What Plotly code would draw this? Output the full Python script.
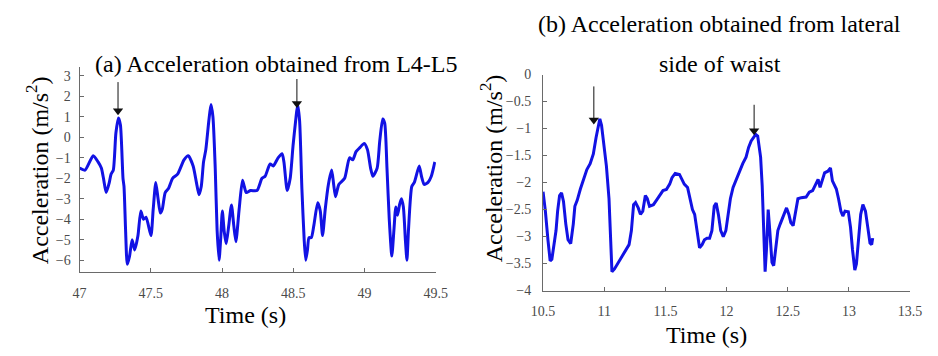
import plotly.graph_objects as go

W, H = 938, 356

# (a) L4-L5 sensor: time (s) and acceleration (m/s^2)
t_a = [47.000, 47.039, 47.096, 47.130, 47.153, 47.168, 47.187, 47.209, 47.221, 47.237,
       47.255, 47.273, 47.287, 47.305, 47.312, 47.323, 47.335, 47.351, 47.369, 47.387,
       47.410, 47.430, 47.449, 47.467, 47.501, 47.517, 47.535, 47.551, 47.567, 47.581,
       47.601, 47.624, 47.653, 47.688, 47.733, 47.763, 47.797, 47.820, 47.838, 47.854,
       47.870, 47.886, 47.907, 47.922, 47.936, 47.952, 47.965, 47.979, 47.990, 48.002,
       48.015, 48.029, 48.047, 48.066, 48.082, 48.097, 48.120, 48.143, 48.156, 48.170,
       48.200, 48.245, 48.280, 48.302, 48.337, 48.359, 48.393, 48.421, 48.434, 48.457,
       48.478, 48.498, 48.516, 48.530, 48.544, 48.560, 48.576, 48.587, 48.599, 48.610,
       48.626, 48.644, 48.671, 48.689, 48.705, 48.724, 48.746, 48.769, 48.783, 48.796,
       48.819, 48.860, 48.894, 48.917, 48.940, 48.967, 48.997, 49.020, 49.042, 49.058,
       49.088, 49.106, 49.127, 49.141, 49.157, 49.173, 49.191, 49.206, 49.219, 49.231,
       49.245, 49.258, 49.272, 49.286, 49.297, 49.308, 49.331, 49.349, 49.383, 49.399,
       49.418, 49.445, 49.468, 49.493]
acc_a = [-1.5, -1.6, -0.9, -1.2, -1.5, -2.0, -2.7, -2.2, -1.8, -1.6,
         0.2, 0.95, 0.6, -2.0, -2.4, -4.5, -6.2, -5.8, -5.0, -5.5,
         -4.8, -3.6, -4.0, -3.9, -4.8, -3.5, -2.2, -3.0, -3.7, -3.5,
         -2.7, -2.5, -2.0, -1.8, -1.1, -0.9, -1.4, -2.2, -2.8, -2.4,
         -1.2, -0.6, 0.8, 1.6, 1.0, -1.5, -4.5, -6.0, -5.0, -3.6,
         -4.6, -5.2, -4.3, -3.3, -4.3, -5.1, -3.5, -2.1, -2.4, -2.7,
         -2.6, -2.6, -2.0, -1.9, -1.3, -1.4, -1.0, -0.8, -1.2, -2.6,
         -2.0, -0.4, 0.8, 1.6, 0.8, -2.5, -5.0, -6.0, -5.5, -4.9,
         -4.9, -4.3, -3.2, -3.6, -4.8, -3.5, -2.3, -1.6, -2.3, -2.9,
         -2.3, -2.0, -1.0, -1.1, -0.7, -0.5, -0.3, -0.6, -1.5, -1.9,
         -1.5, -0.2, 0.9, 0.7, -1.5, -4.0, -5.8, -4.5, -3.4, -3.8,
         -3.3, -3.0, -3.4, -5.0, -6.0, -4.5, -2.4, -2.2, -1.4, -1.9,
         -2.3, -2.2, -1.9, -1.2]

# (b) lateral waist sensor
t_b = [10.500, 10.519, 10.540, 10.558, 10.572, 10.588, 10.606, 10.619, 10.635, 10.651,
       10.667, 10.686, 10.704, 10.726, 10.747, 10.760, 10.779, 10.805, 10.832, 10.858,
       10.885, 10.911, 10.933, 10.951, 10.964, 10.978, 10.996, 11.018, 11.039, 11.052,
       11.063, 11.084, 11.124, 11.163, 11.203, 11.222, 11.240, 11.256, 11.278, 11.296,
       11.315, 11.336, 11.352, 11.370, 11.402, 11.429, 11.456, 11.480, 11.508, 11.535,
       11.554, 11.580, 11.615, 11.633, 11.654, 11.681, 11.702, 11.721, 11.739, 11.761,
       11.779, 11.800, 11.819, 11.840, 11.861, 11.880, 11.899, 11.915, 11.933, 11.952,
       11.973, 11.994, 12.013, 12.031, 12.053, 12.079, 12.106, 12.132, 12.159, 12.180,
       12.201, 12.217, 12.238, 12.254, 12.265, 12.278, 12.291, 12.304, 12.315, 12.326,
       12.340, 12.353, 12.371, 12.385, 12.401, 12.419, 12.438, 12.457, 12.472, 12.490,
       12.509, 12.525, 12.544, 12.562, 12.583, 12.610, 12.650, 12.676, 12.703, 12.729,
       12.748, 12.764, 12.783, 12.801, 12.828, 12.849, 12.865, 12.881, 12.897, 12.915,
       12.934, 12.950, 12.968, 12.995, 13.013, 13.029, 13.048, 13.061, 13.077, 13.096,
       13.114, 13.135, 13.154, 13.172, 13.186, 13.194]
acc_b = [-2.17, -2.53, -3.06, -3.45, -3.42, -3.18, -2.89, -2.53, -2.24, -2.19,
         -2.35, -2.77, -3.06, -3.13, -2.77, -2.44, -2.33, -2.12, -1.94, -1.76,
         -1.65, -1.47, -1.17, -0.97, -0.82, -0.94, -1.29, -1.70, -2.30, -3.12,
         -3.65, -3.60, -3.45, -3.30, -3.15, -2.89, -2.41, -2.37, -2.47, -2.59,
         -2.53, -2.24, -2.30, -2.44, -2.41, -2.32, -2.24, -2.15, -2.13, -2.03,
         -1.91, -1.83, -1.85, -1.94, -2.03, -2.09, -2.30, -2.50, -2.59, -2.89,
         -3.21, -3.15, -3.06, -3.03, -3.03, -2.89, -2.44, -2.38, -2.59, -2.89,
         -3.00, -2.89, -2.62, -2.30, -2.09, -1.94, -1.79, -1.65, -1.53, -1.35,
         -1.23, -1.17, -1.11, -1.14, -1.29, -1.53, -2.06, -2.77, -3.65, -3.24,
         -2.50, -2.89, -3.48, -3.54, -3.18, -2.89, -2.77, -2.65, -2.59, -2.47,
         -2.59, -2.74, -2.80, -2.59, -2.30, -2.28, -2.27, -2.18, -2.15, -2.03,
         -1.94, -2.09, -1.97, -1.82, -1.79, -1.73, -1.97, -2.06, -2.12, -2.30,
         -2.53, -2.62, -2.53, -2.54, -2.83, -3.24, -3.62, -3.51, -3.00, -2.59,
         -2.41, -2.53, -2.83, -3.12, -3.15, -3.03]

# arrow markers: (time, tip value, tail value)
arrows_a = [(47.270, 1.30, 2.70), (48.525, 1.65, 2.85)]
arrows_b = [(10.915, -0.84, -0.22), (12.225, -1.04, -0.56)]

xticks_a = [47, 47.5, 48, 48.5, 49, 49.5]
yticks_a = [3, 2, 1, 0, -1, -2, -3, -4, -5, -6]
xticks_b = [10.5, 11, 11.5, 12, 12.5, 13, 13.5]
yticks_b = [0, -0.5, -1, -1.5, -2, -2.5, -3, -3.5, -4]

title_a = "(a) Acceleration obtained from L4-L5"
title_b1 = "(b) Acceleration obtained from lateral"
title_b2 = "side of waist"
ytitle = "Acceleration (m/s<sup>2</sup>)"
xtitle = "Time (s)"

SERIF = "Liberation Serif"
BLUE = "#1212e4"
AXIS = "#6a6a6a"
TICKFONT = dict(family=SERIF, size=14, color="#4a4a4a")


def fmt(v):
    s = ("%g" % v)
    return s.replace("-", "\u2212")


fig = go.Figure()
fig.add_trace(go.Scatter(x=t_a, y=acc_a, mode="lines", xaxis="x", yaxis="y",
                         line=dict(color=BLUE, width=3, shape="spline", smoothing=0.6),
                         showlegend=False, hoverinfo="skip"))
fig.add_trace(go.Scatter(x=t_b, y=acc_b, mode="lines", xaxis="x2", yaxis="y2",
                         line=dict(color=BLUE, width=3),
                         showlegend=False, hoverinfo="skip"))


# downward arrows marking the peaks: a shaft plus a triangular head at the tip
def add_arrows(arrows, xa, ya):
    for (t, tip, tail) in arrows:
        fig.add_trace(go.Scatter(x=[t, t], y=[tail, tip], mode="lines", xaxis=xa, yaxis=ya,
                                 line=dict(color="#111", width=1),
                                 showlegend=False, hoverinfo="skip"))
        fig.add_trace(go.Scatter(x=[t], y=[tip], mode="markers", xaxis=xa, yaxis=ya,
                                 marker=dict(symbol="triangle-down", size=9, color="#111",
                                             line=dict(width=0)),
                                 showlegend=False, hoverinfo="skip"))


add_arrows(arrows_a, "x", "y")
add_arrows(arrows_b, "x2", "y2")


def px(x):
    return x / W


def py(y):
    return 1 - y / H


axis_common = dict(showgrid=False, zeroline=False, showline=True, linecolor=AXIS,
                   linewidth=1, ticks="inside", ticklen=4, tickcolor=AXIS,
                   tickfont=TICKFONT, fixedrange=True)

fig.update_layout(
    width=W, height=H, margin=dict(l=0, r=0, t=0, b=0),
    paper_bgcolor="white", plot_bgcolor="white",
    xaxis=dict(domain=[px(69.3), px(435)], range=[47, 49.5], anchor="y",
               tickvals=xticks_a, ticktext=[fmt(v) for v in xticks_a],
               ticklabelstandoff=8, **axis_common),
    yaxis=dict(domain=[py(276.7), py(63)], range=[-6.58, 3.42], anchor="x",
               tickvals=yticks_a, ticktext=[fmt(v) for v in yticks_a],
               ticklabelstandoff=5, **axis_common),
    xaxis2=dict(domain=[px(545), px(921.7)], range=[10.5, 13.5], anchor="y2",
                tickvals=xticks_b, ticktext=[fmt(v) for v in xticks_b],
                ticklabelstandoff=8, **axis_common),
    yaxis2=dict(domain=[py(296), py(70.5)], range=[-4, 0], anchor="x2",
                tickvals=yticks_b, ticktext=[fmt(v) for v in yticks_b],
                ticklabelstandoff=8, **axis_common),
)


def label(text, x, y, angle=0):
    return dict(text=text, x=px(x), y=py(y), xref="paper", yref="paper",
                xanchor="center", yanchor="middle", showarrow=False, textangle=angle,
                font=dict(family=SERIF, size=24, color="black"))


fig.update_layout(annotations=[
    label(title_a, 271, 59),
    label(title_b1, 726, 18),
    label(title_b2, 727, 60),
    label(ytitle, 26, 170, -90),
    label(ytitle, 492, 168, -90),
    label(xtitle, 240, 322),
    label(xtitle, 713, 342),
])

fig.write_html("out.html")
